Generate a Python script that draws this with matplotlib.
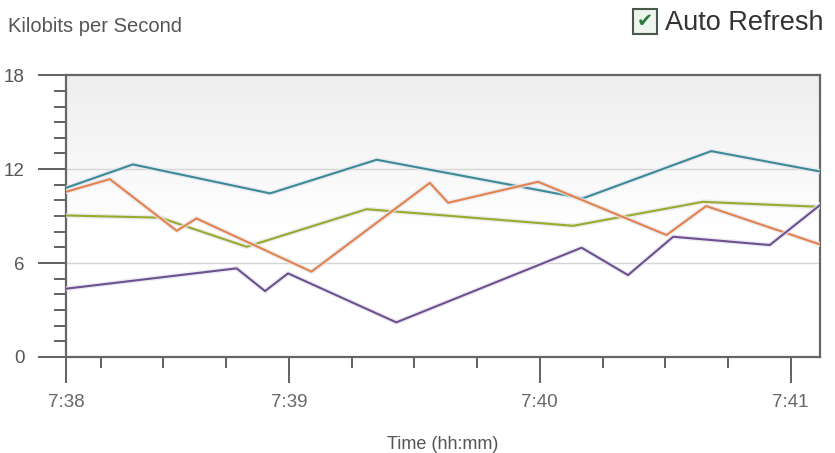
import numpy as np
import matplotlib
matplotlib.use("Agg")
import matplotlib.pyplot as plt
from matplotlib.patches import Rectangle
import matplotlib.patheffects as pe

plt.rcParams['font.family'] = ['Liberation Sans', 'DejaVu Sans']

# seconds after 7:38:00
teal_t = [6.7, 22.7, 55.5, 81, 130.3, 161, 187]
teal_v = [10.8, 12.3, 10.45, 12.6, 10.13, 13.15, 11.85]

orange_t = [6.7, 17.2, 33.2, 37.9, 65.4, 93.7, 98.1, 119.6, 150.3, 159.8, 187]
orange_v = [10.55, 11.36, 8.06, 8.85, 5.45, 11.12, 9.85, 11.19, 7.79, 9.64, 7.19]

olive_t = [6.7, 29.2, 49.9, 78.6, 128, 159, 187]
olive_v = [9.04, 8.9, 7.04, 9.44, 8.38, 9.91, 9.59]

purple_t = [6.7, 47.5, 54.3, 59.8, 85.7, 130, 141.1, 151.9, 175, 187]
purple_v = [4.36, 5.66, 4.21, 5.34, 2.21, 6.98, 5.23, 7.68, 7.15, 9.7]

x_major = [6.7, 60, 120, 180]
x_labels = ['7:38', '7:39', '7:40', '7:41']
x_minor = [15, 30, 45, 75, 90, 105, 135, 150, 165]
y_major = [0, 6, 12, 18]

fig = plt.figure(figsize=(8.35, 4.53), dpi=100)
ax = fig.add_axes([0.079, 0.212, 0.903, 0.622])

# background gradient: light grey at top fading to white
grad = np.linspace(0, 1, 256).reshape(-1, 1)
grad = np.clip((grad - 0.45) / 0.55, 0, 1)
ax.imshow(grad, extent=[0, 1, 0, 1], transform=ax.transAxes, aspect='auto',
          cmap=matplotlib.colors.LinearSegmentedColormap.from_list('bg', ['#ffffff', '#eeeeee']),
          origin='lower', zorder=0)

ax.axhline(6, color='#d4d4d4', lw=1, zorder=1)
ax.axhline(12, color='#d4d4d4', lw=1, zorder=1)

glow = [pe.withStroke(linewidth=3.5, foreground='#e6e6ee', alpha=0.8)]
ax.plot(olive_t, olive_v, color='#9aab2c', lw=1.5, zorder=3, path_effects=glow)
ax.plot(teal_t, teal_v, color='#3a8a98', lw=1.5, zorder=3, path_effects=glow)
ax.plot(orange_t, orange_v, color='#e5814a', lw=1.5, zorder=3, path_effects=glow)
ax.plot(purple_t, purple_v, color='#6e5090', lw=1.5, zorder=3, path_effects=glow)

ax.set_xlim(6.7, 187)
ax.set_ylim(0, 18)

ax.set_xticks(x_major)
ax.set_xticklabels(x_labels)
ax.set_xticks(x_minor, minor=True)
ax.set_yticks(y_major)
ax.set_yticks(np.arange(0, 19, 1), minor=True)

for s in ax.spines.values():
    s.set_color('#666666')
    s.set_linewidth(1.6)

ax.tick_params(axis='x', which='major', direction='out', length=19, width=1.3,
               color='#555555', labelcolor='#666666', labelsize=13.5, pad=8)
ax.tick_params(axis='x', which='minor', direction='out', length=8, width=1.3, color='#555555')
ax.tick_params(axis='y', which='major', direction='out', length=20, width=1.3,
               color='#555555', labelcolor='#555555', labelsize=13.5, pad=10)
ax.tick_params(axis='y', which='minor', direction='out', length=9, width=1.3, color='#555555')

ax.set_xlabel('Time (hh:mm)', fontsize=13, color='#555555', labelpad=18)

fig.text(0.01, 1 - 27 / 453, 'Kilobits per Second', fontsize=14.5, color='#555555', va='center')

# Auto Refresh checkbox
box = Rectangle((633 / 835, 1 - 34 / 453), 24 / 835, 25 / 453, transform=fig.transFigure,
                facecolor='#eef4ee', edgecolor='#4a5a4a', lw=1.5)
fig.patches.append(box)
fig.text(645 / 835, 1 - 21.5 / 453, '\u2714', family='DejaVu Sans', fontsize=14,
         color='#2a7a3a', ha='center', va='center')
fig.text(665 / 835, 1 - 23 / 453, 'Auto Refresh', fontsize=19.5, color='#333333', va='center')

fig.savefig('out.png', dpi=100)
